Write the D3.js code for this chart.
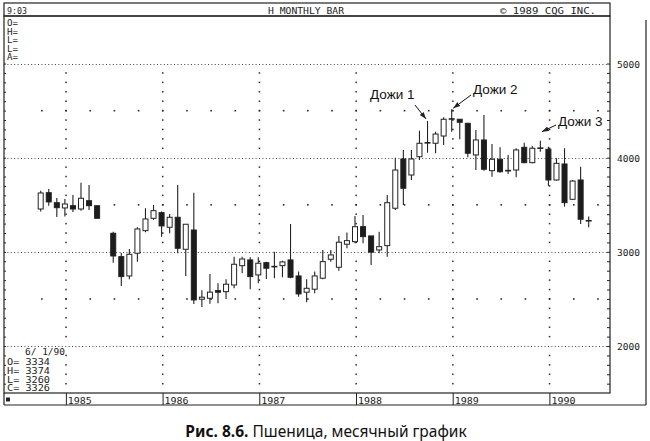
<!DOCTYPE html>
<html><head><meta charset="utf-8">
<script src="https://cdn.jsdelivr.net/npm/d3@7"></script>
<style>
html,body{margin:0;padding:0;background:#fff;}
svg{display:block;}
.t{font-family:"DejaVu Sans Mono",monospace;fill:#222;}
</style></head>
<body>
<svg id="c" width="650" height="441"></svg>
<script>
// ---------- data ----------
const months = ["1984-10","1984-11","1984-12",
 "1985-01","1985-02","1985-03","1985-04","1985-05","1985-06","1985-07","1985-08","1985-09","1985-10","1985-11","1985-12",
 "1986-01","1986-02","1986-03","1986-04","1986-05","1986-06","1986-07","1986-08","1986-09","1986-10","1986-11","1986-12",
 "1987-01","1987-02","1987-03","1987-04","1987-05","1987-06","1987-07","1987-08","1987-09","1987-10","1987-11","1987-12",
 "1988-01","1988-02","1988-03","1988-04","1988-05","1988-06","1988-07","1988-08","1988-09","1988-10","1988-11","1988-12",
 "1989-01","1989-02","1989-03","1989-04","1989-05","1989-06","1989-07","1989-08","1989-09","1989-10","1989-11","1989-12",
 "1990-01","1990-02","1990-03","1990-04","1990-05","1990-06"];
const openV  = [3455,3628,3522,3466,3490,3455,3543,3490,null,3197,2949,2744,2985,3225,3356,3416,3261,3367,3027,3232,2497,2507,2588,2577,2648,2853,2914,2755,2885,2850,2853,2914,2744,2571,2603,2720,2921,2836,3081,3108,3267,3169,3020,3066,3463,3986,3816,4010,4155,4153,4230,4410,4408,4365,4029,4188,3862,3983,3869,3869,4110,3947,4100,4089,3763,3933,3558,3763,3334];
const highV  = [3650,3668,3572,3561,3604,3734,3710,3490,null,3214,2988,3031,3261,3463,3498,3427,3402,3710,3293,3628,2592,2765,2667,2709,2949,2949,2943,2943,2896,3002,2906,3296,2790,2709,2790,3020,3020,3169,3204,3381,3392,3169,3214,3604,4000,4082,4082,4287,4390,4276,4429,4514,4410,4371,4294,4453,4145,4110,4029,4100,4159,4124,4180,4117,3994,4100,3763,3904,3374];
const lowV   = [3427,3490,3370,3374,3423,3437,3445,3356,null,2885,2638,2709,2896,3208,3339,3161,3197,2985,2744,2447,2415,2450,2454,2500,2613,2773,2603,2667,2712,2720,2730,2720,2524,2465,2560,2709,2896,2800,3038,3091,3091,2861,2985,2949,3445,3498,3763,3975,4053,4047,4135,4276,4195,4004,3869,3862,3798,3841,3827,3792,3940,3940,4064,3699,3756,3480,3551,3296,3260];
const closeV = [3625,3530,3469,3508,3455,3569,3490,3356,null,2956,2737,2974,3243,3349,3437,3275,3367,3038,3293,2489,2518,2572,2571,2656,2868,2924,2737,2879,2826,2836,2893,2730,2553,2613,2744,2896,2967,3102,3119,3267,3161,2996,3055,3522,3869,3675,3986,4153,4160,4251,4408,4412,4376,4047,4188,3877,3983,3851,3855,4082,3947,4100,4102,3763,3940,3522,3752,3346,3326];
const priceTicks = [2000,3000,4000,5000];
const yearLabels = ["1985","1986","1987","1988","1989","1990"];
const headerLeft = "9:03", headerMid = "H  MONTHLY BAR", headerRight = "©  1989  CQG  INC.";
const fieldLabels = ["O=","H=","L=","L=","A="];
const lastDate = "6/ 1/90";
const lastLines = ["O= 3334","H= 3374","L= 3260","C= 3326"];
const dojiNotes = [{label:"Дожи 1", idx:48},{label:"Дожи 2", idx:51},{label:"Дожи 3", idx:62}];
const caption = ["Рис. 8.6.", " Пшеница, месячный график"];

// ---------- layout ----------
const ink = "#222";
const svg = d3.select("#c");
const L = 4, R = 610, T = 16, B = 393, RR = 646, AB = 405;
const x = d3.scaleLinear().domain([0, months.length - 1]).range([40.7, 588.7]);
const y = d3.scaleLinear().domain([2000, 5000]).range([346, 63.5]);
const yv = v => y(v);

// frame
const g = svg.append("g");
g.append("rect").attr("x",L).attr("y",3).attr("width",R-L).attr("height",T-3).attr("fill","none").attr("stroke",ink).attr("stroke-width",1.2);
g.append("rect").attr("x",L).attr("y",T).attr("width",R-L).attr("height",B-T).attr("fill","none").attr("stroke",ink).attr("stroke-width",1.2);
g.append("line").attr("x1",L).attr("x2",RR).attr("y1",AB).attr("y2",AB).attr("stroke",ink).attr("stroke-width",1.2);
g.append("line").attr("x1",L).attr("x2",L).attr("y1",B).attr("y2",AB).attr("stroke",ink).attr("stroke-width",1.2);
g.append("line").attr("x1",RR).attr("x2",RR).attr("y1",20).attr("y2",AB).attr("stroke",ink).attr("stroke-width",1.2);

// header text
g.append("text").attr("class","t").attr("x",7).attr("y",14).attr("font-size",9).attr("textLength",20).attr("lengthAdjust","spacingAndGlyphs").text(headerLeft);
g.append("text").attr("class","t").attr("x",268).attr("y",14).attr("font-size",9).attr("textLength",76).attr("lengthAdjust","spacingAndGlyphs").text(headerMid);
g.append("text").attr("class","t").attr("x",500).attr("y",14).attr("font-size",9).attr("textLength",96).attr("lengthAdjust","spacingAndGlyphs").text(headerRight);

// field labels
fieldLabels.forEach((s,i)=>{
  g.append("text").attr("class","t").attr("x",7).attr("y",26+i*8.6).attr("font-size",8).attr("textLength",11).attr("lengthAdjust","spacingAndGlyphs").text(s);
});

// horizontal dotted grid lines
g.selectAll(".hg").data(priceTicks).join("line")
  .attr("x1",L).attr("x2",R).attr("y1",d=>Math.round(yv(d))+0.5).attr("y2",d=>Math.round(yv(d))+0.5)
  .attr("stroke","#444").attr("stroke-width",1).attr("stroke-dasharray","1,2.4");

// year column dots (every 100)
const janIdx = months.map((m,i)=>m.endsWith("-01")?i:-1).filter(i=>i>=0);
const colLevels = d3.range(1500, 5000, 100).filter(v=>v%1000!==0);
janIdx.forEach(i=>{
  g.selectAll(null).data(colLevels.filter(v=>yv(v)<B-1)).join("rect")
    .attr("x",x(i)+0.4).attr("y",d=>yv(d)-0.7).attr("width",1.5).attr("height",1.5).attr("fill","#2a2a2a");
});
// quarterly dots on half levels
const qIdx = d3.range(0, months.length+1, 3);
[2500,3500,4500].forEach(v=>{
  g.selectAll(null).data(qIdx.filter(i=>x(i)+1<R-3)).join("rect")
    .attr("x",i=>x(i)+0.4).attr("y",yv(v)-0.7).attr("width",1.6).attr("height",1.6).attr("fill","#2a2a2a");
});

// minor ticks on borders
const minor = d3.range(1500, 5001, 100).filter(v=>yv(v)>T+2 && yv(v)<B-1);
svg.append("g").attr("transform",`translate(${R},0)`)
  .call(d3.axisLeft(y).tickValues(minor).tickSize(3).tickFormat(""))
  .call(a=>{a.select(".domain").remove(); a.selectAll("line").attr("stroke",ink);});
svg.append("g").attr("transform",`translate(${L},0)`)
  .call(d3.axisRight(y).tickValues(minor).tickSize(2).tickFormat(""))
  .call(a=>{a.select(".domain").remove(); a.selectAll("line").attr("stroke",ink);});

// right price labels
svg.append("g").attr("transform",`translate(${R+7},0)`)
  .call(d3.axisRight(y).tickValues(priceTicks).tickSize(0).tickPadding(0).tickFormat(d3.format("d")))
  .call(a=>{a.select(".domain").remove();
    a.selectAll("text").attr("class","t").attr("font-size",9).attr("fill",ink).attr("textLength",23).attr("lengthAdjust","spacingAndGlyphs").attr("dy","0.4em");});

// bottom year row
janIdx.forEach((i,k)=>{
  const xx = x(i)+1.5;
  g.append("line").attr("x1",xx).attr("x2",xx).attr("y1",B).attr("y2",AB).attr("stroke",ink).attr("stroke-width",1);
  g.append("text").attr("class","t").attr("x",xx+1.5).attr("y",403.5).attr("font-size",9).attr("textLength",24).attr("lengthAdjust","spacingAndGlyphs").text(yearLabels[k]);
});
g.append("rect").attr("x",6).attr("y",397.5).attr("width",4).attr("height",4).attr("fill",ink);

// last bar readout
g.append("text").attr("class","t").attr("x",25).attr("y",354.5).attr("font-size",9).attr("textLength",40).attr("lengthAdjust","spacingAndGlyphs").text(lastDate);
lastLines.forEach((s,i)=>{
  g.append("text").attr("class","t").attr("x",7).attr("y",365+i*8.8).attr("font-size",9).attr("textLength",43).attr("lengthAdjust","spacingAndGlyphs").text(s);
});

// candles
const bars = months.map((m,i)=>({i,o:openV[i],h:highV[i],l:lowV[i],c:closeV[i]})).filter(d=>d.o!=null);
const cg = svg.append("g");
cg.selectAll(".wick").data(bars).join("line")
  .attr("x1",d=>x(d.i)).attr("x2",d=>x(d.i)).attr("y1",d=>yv(d.h)).attr("y2",d=>yv(d.l))
  .attr("stroke",ink).attr("stroke-width",1.1);
const bw = 5;
cg.selectAll(".body").data(bars.filter(d=>Math.abs(yv(d.o)-yv(d.c))>=1.5)).join("rect")
  .attr("x",d=>x(d.i)-bw/2).attr("width",bw)
  .attr("y",d=>yv(Math.max(d.o,d.c))).attr("height",d=>Math.abs(yv(d.o)-yv(d.c)))
  .attr("fill",d=>d.c<d.o?"#1c1c1c":"#fff").attr("stroke",ink).attr("stroke-width",1);
cg.selectAll(".doji").data(bars.filter(d=>Math.abs(yv(d.o)-yv(d.c))<1.5)).join("line")
  .attr("x1",d=>x(d.i)-bw/2-0.5).attr("x2",d=>x(d.i)+bw/2+0.5)
  .attr("y1",d=>yv((d.o+d.c)/2)).attr("y2",d=>yv((d.o+d.c)/2))
  .attr("stroke",ink).attr("stroke-width",1.6);

// doji annotations
const defs = svg.append("defs");
defs.append("marker").attr("id","ah").attr("viewBox","0 0 10 10").attr("refX",10).attr("refY",5)
  .attr("markerWidth",7).attr("markerHeight",7).attr("orient","auto")
  .append("path").attr("d","M0,1.5 L10,5 L0,8.5 Z").attr("fill",ink);
const notePos = [
  {tx:370, ty:99, x1:415, y1:105, dx:-1.5, dy:-2},
  {tx:473, ty:94, x1:471, y1:95, dx:1.5, dy:-1},
  {tx:558, ty:126, x1:556, y1:125, dx:1.5, dy:-9}
];
dojiNotes.forEach((n,k)=>{
  const p = notePos[k];
  const d = bars.find(b=>b.i===n.idx);
  svg.append("text").attr("x",p.tx).attr("y",p.ty).attr("font-family","Liberation Sans, Arial, sans-serif")
    .attr("font-size",13.5).attr("fill","#111").text(n.label);
  svg.append("line").attr("x1",p.x1).attr("y1",p.y1).attr("x2",x(d.i)+p.dx).attr("y2",yv(d.h)+p.dy)
    .attr("stroke","#111").attr("stroke-width",1).attr("marker-end","url(#ah)");
});

// caption
const cap = svg.append("text").attr("x",326).attr("y",437).attr("text-anchor","middle")
  .attr("font-family","Noto Sans, Open Sans, sans-serif").attr("font-size",15.5).attr("fill","#111");
cap.append("tspan").attr("font-weight","bold").text(caption[0]);
cap.append("tspan").text(caption[1]);
</script>
</body></html>
